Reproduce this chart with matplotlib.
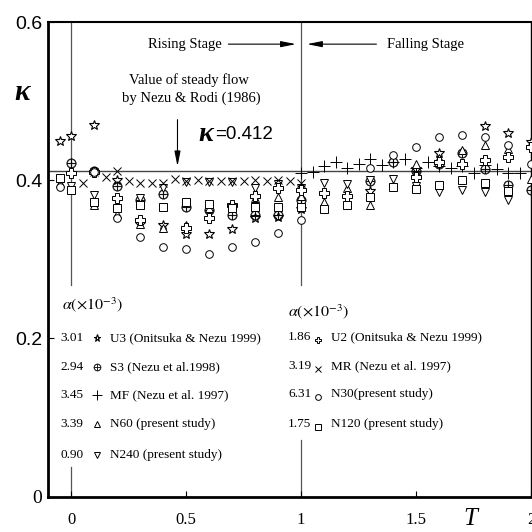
import matplotlib
matplotlib.use("Agg")
import matplotlib.pyplot as plt

matplotlib.rcParams['mathtext.fontset'] = 'stix'
SERIF = 'Liberation Serif'
SANS = 'Liberation Sans'

# series (T, kappa)
u3_t = [-0.05, 0.0, 0.1, 0.2, 0.3, 0.4, 0.5, 0.6, 0.7, 0.8, 0.9, 1.0, 1.3, 1.5, 1.6, 1.8, 1.9, 2.0]
u3_k = [0.449, 0.456, 0.470, 0.400, 0.345, 0.343, 0.332, 0.332, 0.338, 0.352, 0.354, 0.364, 0.386, 0.414, 0.434, 0.468, 0.460, 0.448]

s3_t = [0.0, 0.1, 0.2, 0.3, 0.4, 0.5, 0.6, 0.7, 0.8, 0.9, 1.0, 1.3, 1.4, 1.5, 1.6, 1.7, 1.8, 1.9, 2.0]
s3_k = [0.422, 0.412, 0.392, 0.375, 0.382, 0.366, 0.362, 0.356, 0.356, 0.356, 0.375, 0.399, 0.423, 0.412, 0.421, 0.434, 0.414, 0.394, 0.387]

mf_t = [1.0, 1.05, 1.1, 1.15, 1.2, 1.25, 1.3, 1.35, 1.4, 1.45, 1.5, 1.55, 1.6, 1.65, 1.7, 1.75, 1.8, 1.85, 1.9, 1.95]
mf_k = [0.409, 0.410, 0.418, 0.423, 0.416, 0.420, 0.427, 0.419, 0.423, 0.427, 0.416, 0.423, 0.418, 0.415, 0.418, 0.409, 0.419, 0.414, 0.409, 0.409]

n60_t = [-0.05, 0.0, 0.1, 0.2, 0.3, 0.4, 0.5, 0.6, 0.7, 0.8, 0.9, 1.0, 1.1, 1.2, 1.3, 1.5, 1.6, 1.7, 1.8, 1.9, 2.0]
n60_k = [0.397, 0.392, 0.368, 0.357, 0.345, 0.339, 0.343, 0.365, 0.370, 0.377, 0.379, 0.380, 0.372, 0.390, 0.369, 0.421, 0.428, 0.438, 0.444, 0.440, 0.402]

n240_t = [-0.05, 0.0, 0.1, 0.2, 0.3, 0.4, 0.5, 0.6, 0.7, 0.8, 0.9, 1.0, 1.1, 1.2, 1.3, 1.4, 1.5, 1.6, 1.7, 1.8, 1.9]
n240_k = [0.397, 0.392, 0.381, 0.374, 0.378, 0.390, 0.398, 0.398, 0.398, 0.390, 0.395, 0.390, 0.396, 0.395, 0.400, 0.402, 0.393, 0.385, 0.387, 0.385, 0.375]

u2_t = [0.0, 0.1, 0.2, 0.3, 0.5, 0.6, 0.7, 0.8, 0.9, 1.0, 1.1, 1.2, 1.5, 1.6, 1.7, 1.8, 1.9, 2.0]
u2_k = [0.409, 0.410, 0.378, 0.350, 0.340, 0.352, 0.368, 0.380, 0.390, 0.387, 0.384, 0.380, 0.404, 0.423, 0.421, 0.425, 0.429, 0.442]

mr_t = [0.05, 0.1, 0.15, 0.2, 0.25, 0.3, 0.35, 0.4, 0.45, 0.5, 0.55, 0.6, 0.65, 0.7, 0.75, 0.8, 0.85, 0.9, 0.95, 1.0]
mr_k = [0.396, 0.410, 0.404, 0.411, 0.399, 0.396, 0.397, 0.397, 0.401, 0.399, 0.400, 0.399, 0.399, 0.399, 0.399, 0.400, 0.399, 0.400, 0.399, 0.397]

n30_t = [-0.05, 0.1, 0.2, 0.3, 0.4, 0.5, 0.6, 0.7, 0.8, 0.9, 1.0, 1.3, 1.4, 1.5, 1.6, 1.7, 1.8, 1.9, 2.0]
n30_k = [0.391, 0.410, 0.352, 0.328, 0.315, 0.313, 0.307, 0.316, 0.322, 0.333, 0.349, 0.415, 0.432, 0.442, 0.455, 0.457, 0.455, 0.444, 0.421]

n120_t = [-0.05, 0.0, 0.1, 0.2, 0.3, 0.4, 0.5, 0.6, 0.7, 0.8, 0.9, 1.0, 1.1, 1.2, 1.3, 1.4, 1.5, 1.6, 1.7, 1.8, 1.9]
n120_k = [0.403, 0.387, 0.372, 0.365, 0.368, 0.366, 0.372, 0.370, 0.365, 0.366, 0.366, 0.366, 0.364, 0.369, 0.379, 0.391, 0.389, 0.394, 0.400, 0.396, 0.386]

kappa_steady = 0.412

# legend columns: alpha value, label
left_alpha = ['3.01', '2.94', '3.45', '3.39', '0.90']
left_labels = ['U3 (Onitsuka & Nezu 1999)', 'S3 (Nezu et al.1998)', 'MF (Nezu et al. 1997)',
               'N60 (present study)', 'N240 (present study)']
right_alpha = ['1.86', '3.19', '6.31', '1.75']
right_labels = ['U2 (Onitsuka & Nezu 1999)', 'MR (Nezu et al. 1997)', 'N30(present study)',
                'N120 (present study)']

star = dict(marker='*', ms=7, mfc='white', mec='k', mew=0.8)
oplus = dict(marker=r'$\oplus$', ms=7, mfc='k', mec='k', mew=0.2)
plus = dict(marker='+', ms=9, mec='k', mew=0.7)
tri_up = dict(marker='^', ms=6, mfc='white', mec='k', mew=0.7)
tri_dn = dict(marker='v', ms=6, mfc='white', mec='k', mew=0.7)
clover = dict(marker='P', ms=6.5, mfc='white', mec='k', mew=0.7)
cross = dict(marker='x', ms=6, mec='k', mew=0.7)
circ = dict(marker='o', ms=5.5, mfc='white', mec='k', mew=0.7)
square = dict(marker='s', ms=5.5, mfc='white', mec='k', mew=0.7)

fig = plt.figure(figsize=(5.32, 5.32), dpi=100)
ax = fig.add_axes([48 / 532, 1 - 496.5 / 532, 483 / 532, 474.5 / 532])
ax.set_xlim(-0.1, 2.0)
ax.set_ylim(0, 0.6)

# reference lines
ax.axhline(kappa_steady, color='#444444', lw=1.0, zorder=1)
for tx, ylo in [(0.0, 0.037), (1.0, 0.072)]:
    ax.plot([tx, tx], [0.6, 0.267], color='#555555', lw=0.9, zorder=1)
    ax.plot([tx, tx], [0.0, ylo], color='#555555', lw=0.9, zorder=1)

series = [
    (u3_t, u3_k, star), (s3_t, s3_k, oplus), (mf_t, mf_k, plus),
    (n60_t, n60_k, tri_up), (n240_t, n240_k, tri_dn), (u2_t, u2_k, clover),
    (mr_t, mr_k, cross), (n30_t, n30_k, circ), (n120_t, n120_k, square),
]
for t, k, st in series:
    ax.plot(t, k, ls='none', zorder=3, **st)

# axes styling
for side, lw in [('left', 2.0), ('bottom', 2.0), ('top', 1.5), ('right', 1.0)]:
    ax.spines[side].set_linewidth(lw)
ax.set_xticks([0, 0.5, 1, 1.5, 2])
ax.set_xticklabels(['0', '0.5', '1', '1.5', '2'], family=SERIF, fontsize=12)
ax.set_yticks([0, 0.2, 0.4, 0.6])
ax.set_yticklabels(['0', '0.2', '0.4', '0.6'], family=SANS, fontsize=14)
ax.get_yticklabels()[0].set_family(SERIF)
ax.tick_params(direction='in', length=4, width=0.8)
ax.tick_params(axis='x', pad=11)
ax.tick_params(axis='y', pad=4)

fig.text(22 / 532, 1 - 93 / 532, 'κ', family=SERIF, weight='bold', style='italic',
         fontsize=21, ha='center', va='center')
fig.text(470 / 532, 1 - 519 / 532, 'T', family=SERIF, style='italic',
         fontsize=18, ha='center', va='center')

# stage annotations
ax.text(0.654, 0.572, 'Rising Stage', family=SERIF, fontsize=10.5, ha='right', va='center')
ax.annotate('', xy=(0.99, 0.572), xytext=(0.672, 0.572),
            arrowprops=dict(arrowstyle='-|>,head_length=0.9,head_width=0.18', lw=0.8, color='k'))
ax.text(1.376, 0.572, 'Falling Stage', family=SERIF, fontsize=10.5, ha='left', va='center')
ax.annotate('', xy=(1.014, 0.572), xytext=(1.34, 0.572),
            arrowprops=dict(arrowstyle='-|>,head_length=0.9,head_width=0.18', lw=0.8, color='k'))

ax.text(0.515, 0.527, 'Value of steady flow', family=SERIF, fontsize=10.5, ha='center', va='center')
ax.text(0.524, 0.504, 'by Nezu & Rodi (1986)', family=SERIF, fontsize=10.5, ha='center', va='center')
ax.annotate('', xy=(0.463, 0.414), xytext=(0.463, 0.480),
            arrowprops=dict(arrowstyle='-|>,head_length=0.9,head_width=0.18', lw=0.8, color='k'))
ax.text(0.585, 0.458, 'κ', family=SERIF, weight='bold', style='italic', fontsize=20,
        ha='center', va='center')
ax.text(0.625, 0.458, '=0.412', family=SANS, fontsize=13.5, ha='left', va='center')

# hand-made legend
alpha_head = r'$\alpha\left(\times 10^{-3}\right)$'
ax.text(0.029, 0.404, alpha_head, transform=ax.transAxes, fontsize=11.5, va='center')
ax.text(0.497, 0.389, alpha_head, transform=ax.transAxes, fontsize=11.5, va='center')

left_styles = [star, oplus, plus, tri_up, tri_dn]
left_rows = [0.334, 0.273, 0.214, 0.153, 0.087]
for a, lab, st, yy in zip(left_alpha, left_labels, left_styles, left_rows):
    ax.text(0.073, yy, a, transform=ax.transAxes, family=SERIF, fontsize=9.5,
            ha='right', va='center')
    ax.plot([0.101], [yy], transform=ax.transAxes, ls='none', clip_on=False,
            **dict(st, ms=st['ms'] * 0.75))
    ax.text(0.128, yy, lab, transform=ax.transAxes, family=SERIF, fontsize=9.5, va='center')

right_styles = [clover, cross, circ, square]
right_rows = [0.336, 0.275, 0.216, 0.153]
for a, lab, st, yy in zip(right_alpha, right_labels, right_styles, right_rows):
    ax.text(0.545, yy, a, transform=ax.transAxes, family=SERIF, fontsize=9.5,
            ha='right', va='center')
    ax.plot([0.56], [yy - 0.006], transform=ax.transAxes, ls='none', clip_on=False,
            **dict(st, ms=st['ms'] * 0.75))
    ax.text(0.586, yy, lab, transform=ax.transAxes, family=SERIF, fontsize=9.5, va='center')

fig.savefig('out.png', dpi=100)
